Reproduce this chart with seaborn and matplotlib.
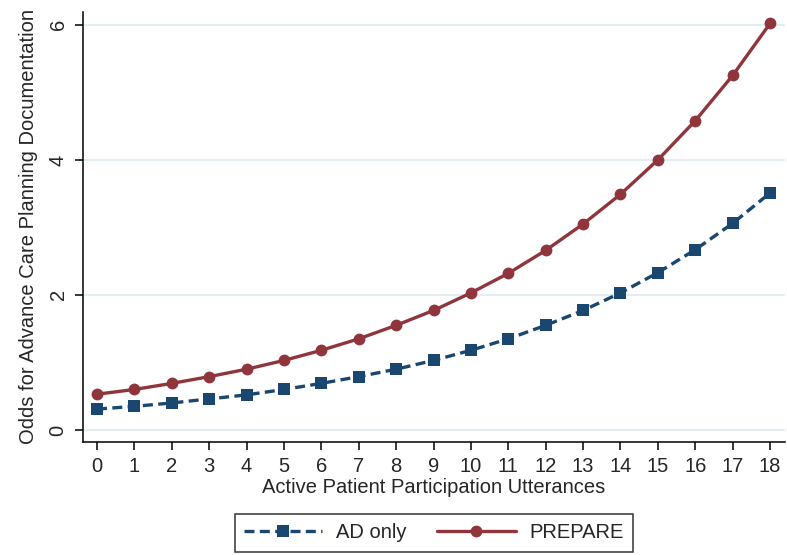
import matplotlib
matplotlib.use("Agg")
import matplotlib.pyplot as plt
import seaborn as sns
import pandas as pd

utterances = list(range(19))
ad_only = [0.31, 0.35, 0.40, 0.46, 0.52, 0.60, 0.69, 0.79, 0.90, 1.03,
           1.18, 1.35, 1.55, 1.77, 2.03, 2.33, 2.67, 3.06, 3.51]
prepare = [0.53, 0.60, 0.69, 0.79, 0.90, 1.03, 1.18, 1.35, 1.55, 1.77,
           2.03, 2.32, 2.66, 3.05, 3.49, 4.00, 4.58, 5.25, 6.02]
groups = ["AD only", "PREPARE"]

df = pd.concat([
    pd.DataFrame({"x": utterances, "odds": ad_only, "group": groups[0]}),
    pd.DataFrame({"x": utterances, "odds": prepare, "group": groups[1]}),
])

sns.set_style("white")
plt.rcParams["font.family"] = ["Liberation Sans", "DejaVu Sans"]

fig = plt.figure(figsize=(7.87, 5.55), dpi=100)
ax = fig.add_axes([83 / 787, 1 - 442 / 555, (785 - 83) / 787, (442 - 12) / 555])

palette = {"AD only": "#1a476f", "PREPARE": "#90353b"}
sns.lineplot(data=df, x="x", y="odds", hue="group", style="group",
             hue_order=groups, style_order=groups, palette=palette,
             markers={"AD only": "s", "PREPARE": "o"},
             dashes={"AD only": (3, 1.6), "PREPARE": ""},
             markersize=8.5, linewidth=2.4, markeredgewidth=0, ax=ax)

ax.set_xlim(-0.375, 18.4)
ax.set_ylim(-0.178, 6.19)
ax.set_xticks(utterances)
ax.set_yticks([0, 2, 4, 6])
ax.set_yticklabels(["0", "2", "4", "6"], rotation=90, va="center")
ax.grid(axis="y", color="#e3eef1", linewidth=1.4)
ax.set_axisbelow(True)
for s in ["top", "right"]:
    ax.spines[s].set_visible(False)
for s in ["left", "bottom"]:
    ax.spines[s].set_color("black")
    ax.spines[s].set_linewidth(1.1)
ax.tick_params(axis="both", direction="out", length=6, width=1.1, color="black",
               labelsize=14.5, pad=5, bottom=True, left=True)
ax.set_xlabel("Active Patient Participation Utterances", fontsize=14.5, labelpad=1)
ax.set_ylabel("Odds for Advance Care Planning Documentation", fontsize=14.5, labelpad=8)

handles, labels = ax.get_legend_handles_labels()
leg = ax.legend(handles, labels, loc="upper center", bbox_to_anchor=(0.5, -0.145),
                ncol=2, frameon=True, fancybox=False, fontsize=14.5,
                handlelength=3.9, handletextpad=0.7, columnspacing=1.5,
                borderpad=0.45)
leg.get_frame().set_edgecolor("black")
leg.get_frame().set_linewidth(1.1)

plt.savefig("out.png", dpi=100)
